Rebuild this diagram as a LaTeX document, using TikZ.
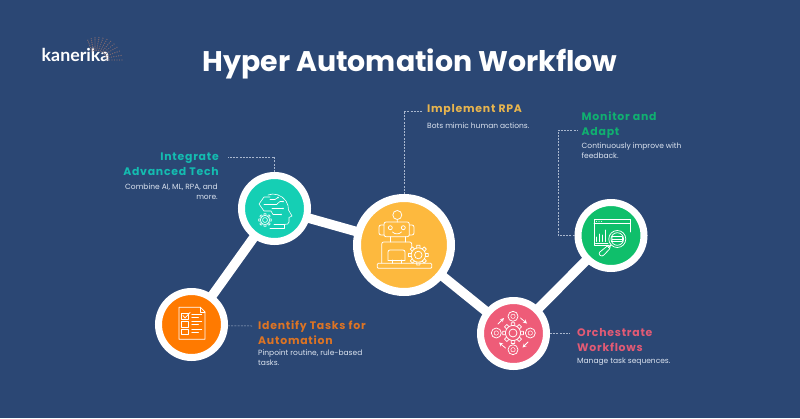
\documentclass[tikz,border=0pt]{standalone}
\usepackage{fontspec}
\setmainfont{Poppins}
\newfontfamily\headf[LetterSpace=7]{Poppins}
\newfontfamily\logof{Lato}
\definecolor{bg}{HTML}{2B4774}
\definecolor{cteal}{HTML}{15CFB4}
\definecolor{corange}{HTML}{FF7A00}
\definecolor{cyellow}{HTML}{FDB93E}
\definecolor{cgreen}{HTML}{0FBF6B}
\definecolor{cpink}{HTML}{EE5C78}
\definecolor{hteal}{HTML}{14BCB0}
\definecolor{horange}{HTML}{DD7424}
\definecolor{hyellow}{HTML}{E8B54E}
\definecolor{hgreen}{HTML}{10B070}
\definecolor{hpink}{HTML}{E25A74}
\definecolor{bodyc}{HTML}{DCE4F0}
\definecolor{dashc}{HTML}{A9B7CE}
\definecolor{dotc}{HTML}{7F6A70}
\newcommand{\gearicon}[3]{%
  \draw[icon] (#1,#2) circle ({#3*0.72}) (#1,#2) circle ({#3*0.38});
  \foreach \a in {0,45,...,315}{
    \draw[icon,shift={(#1,#2)}] (\a-13:{#3*0.72}) -- (\a-9:#3) -- (\a+9:#3) -- (\a+13:{#3*0.72});
  }}
\tikzset{
  icon/.style={draw=white,line width=0.75pt,line cap=round,line join=round},
  ring/.style={circle,draw=white,inner sep=0pt},
  small/.style={ring,line width=7pt,minimum size=66pt},
  big/.style={ring,line width=8pt,minimum size=94pt},
  link/.style={draw=white,line width=9.5pt,shorten <=-2pt,shorten >=-2pt},
  leader/.style={draw=dashc,line width=0.5pt,dash pattern=on 2pt off 1.2pt},
  heading/.style={inner sep=0pt,font=\headf\bfseries\fontsize{10.9}{15}\selectfont},
  bodytext/.style={inner sep=0pt,text=bodyc,font=\fontsize{7.5}{10}\selectfont},
}
\begin{document}
\begin{tikzpicture}[x=1pt,y=-1pt]
\fill[bg] (0,0) rectangle (800,418);
\useasboundingbox (0,0) rectangle (800,418);
% circles
\node[small,fill=cteal] (teal) at (274.5,208.5) {};
\node[small,fill=corange] (orange) at (191.5,324.5) {};
\node[big,fill=cyellow] (yellow) at (404,245) {};
\node[small,fill=cpink] (pink) at (513.5,333.5) {};
\node[small,fill=cgreen] (green) at (611,235.5) {};
% connectors
\draw[link] (orange) -- (teal);
\draw[link] (teal) -- (yellow);
\draw[link] (yellow) -- (pink);
\draw[link] (pink) -- (green);
% leaders
\coordinate (tealend) at (228,157);
\coordinate (orangeend) at (252,326);
\coordinate (yellowend) at (423,111);
\coordinate (greenend) at (577,130);
\coordinate (pinkend) at (570,333.5);
\draw[leader] (teal.north) |- (tealend);
\draw[leader] (orange.-2.5) -- (orangeend);
\draw[leader] (yellow.north) |- (yellowend);
\draw[leader] (green.west) -- (558,235.5) -- (558,130) -- (greenend);
\draw[leader] (pink.east) -- (pinkend);
% title
\node[inner sep=0pt,text=white,font=\bfseries\fontsize{28.4}{32}\selectfont] (title) at (410,63.5) {Hyper Automation Workflow};
% labels
\node[heading,text=hteal,anchor=east,align=right] (h1) at (219,164.5) {Integrate\\Advanced Tech};
\node[bodytext,anchor=east,align=right] (b1) at (218,192) {Combine AI, ML, RPA, and\\more.};
\node[heading,text=horange,anchor=west,align=left] (h2) at (258,332.5) {Identify Tasks for\\Automation};
\node[bodytext,anchor=west,align=left] (b2) at (258,358) {Pinpoint routine, rule-based\\tasks.};
\node[heading,text=hyellow,anchor=west] (h3) at (427,110) {Implement RPA};
\node[bodytext,anchor=west] (b3) at (427,126) {Bots mimic human actions.};
\node[heading,text=hgreen,anchor=west,align=left] (h4) at (581.5,125.5) {Monitor and\\Adapt};
\node[bodytext,anchor=west,align=left] (b4) at (581.5,151) {Continuously improve with\\feedback.};
\node[heading,text=hpink,anchor=west,align=left] (h5) at (577,340.5) {Orchestrate\\Workflows};
\node[bodytext,anchor=west] (b5) at (577,362) {Manage task sequences.};
% logo
\node[inner sep=0pt,anchor=west,text=white,font=\logof\bfseries\fontsize{17.8}{20}\selectfont] (logo) at (41.5,55) {kanerika};
\begin{scope}[shift={(95,60)}]
\foreach \r in {12,14.5,...,27}{
  \foreach \a in {0,10,...,110}{
    \fill[dotc] (-\a:{\r*(1-\a/500)}) circle (0.7);
  }}
\end{scope}
% robot
\begin{scope}
\draw[icon] (397.3,215) circle (4.5) (397.3,219.5) -- (397.3,222);
\draw[icon,rounded corners=2] (384,222) rectangle (409.3,236.7);
\draw[icon,rounded corners=2] (384,225) -- (379,225) -- (379,235) -- (384,235);
\draw[icon,rounded corners=2] (409.3,225) -- (414,225) -- (414,235) -- (409.3,235);
\draw[icon] (390.3,227.7) circle (2) (403.3,227.7) circle (2);
\draw[icon] (392.5,232) .. controls (395,234.5) and (399,234.5) .. (401.5,232);
\draw[icon] (390,236.7) -- (390,242) (405,236.7) -- (405,242);
\draw[icon,rounded corners=2] (381.7,263) -- (381.7,242) -- (411.7,242) -- (411.7,248);
\draw[icon,rounded corners=2] (388,260) -- (388,250) -- (405,250) -- (405,260);
\draw[icon] (392,260) -- (392,263.3) (401,260) -- (401,263.3) (388,260) -- (405,260);
\draw[icon,rounded corners=1] (377.3,263.3) rectangle (431.7,268.3);
\gearicon{418.3}{255}{10}
\end{scope}
% document
\draw[icon] (179,307.3) -- (200.5,307.3) -- (205,312) -- (205,339.3) -- (179,339.3) -- cycle;
\draw[icon] (200.5,307.3) -- (200.5,312) -- (205,312);
\foreach \y/\yy in {313.3/319.3,321/327,329/334.5}{
  \draw[icon] (181.7,\y) rectangle (188.5,\yy);
  \draw[icon] (191.7,\y+0.8) -- (201.7,\y+0.8) (191.7,\y+3.6) -- (198.5,\y+3.6);
}
\draw[icon] (183,315.5) -- (185,318) -- (190,312.5);
% head
\begin{scope}[icon/.append style={line width=0.6pt}]
\draw[icon] (268,195) .. controls (274,192.5) and (282,195) .. (286,201)
  .. controls (288,204) and (288.5,207) .. (288.5,210) -- (292,216) -- (289,217.5)
  -- (289,222) .. controls (289,224) and (287,224.5) .. (284,224.5) -- (274,224.5);
\draw[icon] (284,224.5) -- (284,228) -- (270,228);
\draw[icon] (259,204) -- (264,197) -- (270,197) (259,204) -- (264,211) -- (271,211) -- (273,214.5) -- (281,214.5);
\draw[icon] (264,204) -- (277,204);
\draw[icon] (270,199.5) -- (275,199.5) -- (278,197.5) (272,208.5) -- (283,208.5);
\draw[icon] (277,204) -- (280,201.5) -- (283,201.5);
\fill[white] (278,197.5) circle (0.9) (283,201.5) circle (0.9) (283,208.5) circle (0.9) (281,214.5) circle (0.9);
\gearicon{265}{220}{6.5}
\end{scope}
% monitor
\draw[icon] (609,245) -- (594,245) -- (594,219) -- (630,219) -- (630,232);
\draw[icon] (594,223.5) -- (630,223.5);
\foreach \x in {596.5,599,601.5}{\fill[white] (\x,221.3) circle (0.5);}
\draw[icon] (595.5,243) -- (608,243);
\foreach \x/\t in {596/237,599/234,602/235,605/230}{
  \draw[icon,line width=1pt] (\x,241.5) -- (\x,\t);
}
\draw[icon] (617.3,239) circle (8.5) (617.3,239) circle (6.3);
\draw[icon,rounded corners=0.5] (612,236.5) rectangle (622.5,241.5);
\draw[icon] (612,239) -- (622.5,239);
\draw[icon] (611,245) -- (608.5,247.5);
\draw[icon,rounded corners=2.5] (608.5,245) -- (611,247.5) -- (602,257) -- (598,253.5) -- cycle;
% orchestrate
\gearicon{513}{333}{10.5}
\foreach \x/\y in {513/316.3,496.3/333,530.3/333,513/349.7}{
  \draw[icon] (\x,\y) circle (5);
  \draw[icon,line width=0.5pt] (\x,\y) circle (2.2);
}
\draw[icon,-stealth] (520.5,318) -- (527,323.5);
\draw[icon,-stealth] (528,342) -- (522.5,347.5);
\draw[icon,-stealth] (505.5,348) -- (499,342.5);
\draw[icon,-stealth] (498,324) -- (504,318);
\end{tikzpicture}
\end{document}
